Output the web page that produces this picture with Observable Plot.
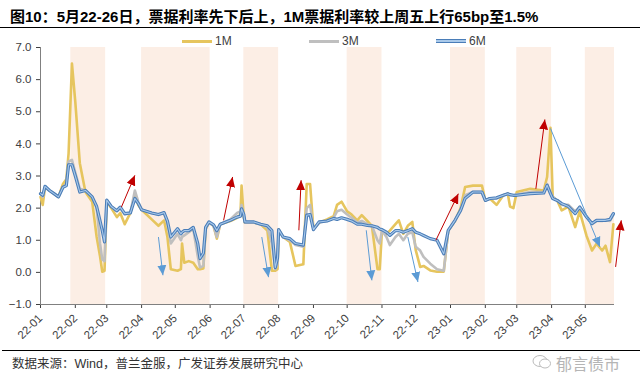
<!DOCTYPE html>
<html><head><meta charset="utf-8">
<script src="https://cdn.jsdelivr.net/npm/d3@7"></script>
<script src="https://cdn.jsdelivr.net/npm/@observablehq/plot@0.6"></script>
<style>
body{margin:0;background:#fff;}
#wrap{position:relative;width:640px;height:385px;overflow:hidden;font-family:"Liberation Sans","Noto Sans CJK SC",sans-serif;}
#title{position:absolute;left:10px;top:5px;font-size:15px;font-weight:bold;color:#000;white-space:nowrap;font-family:"Liberation Sans","Noto Sans CJK SC",sans-serif;}
#tline{position:absolute;left:0;top:27px;width:640px;height:0;border-top:1.5px solid #000;}
#chart{position:absolute;left:0;top:30px;}
.leg{position:absolute;top:34px;height:14px;font-size:12px;color:#404040;display:flex;align-items:center;white-space:nowrap;}
.sw{display:inline-block;width:30px;margin-right:3px;}
#fline{position:absolute;left:2px;top:350px;width:638px;height:0;border-top:1.5px solid #000;}
#src{position:absolute;left:12px;top:353px;font-size:12.5px;color:#333;white-space:nowrap;}
#wm{position:absolute;left:556px;top:351px;font-size:16px;color:#b5b5b5;white-space:nowrap;font-family:"Noto Sans CJK SC",sans-serif;}
#icon{position:absolute;left:532px;top:355px;width:20px;height:14px;}
</style></head>
<body><div id="wrap">
<div id="title"></div><div id="tline"></div>
<div id="chart"></div>
<div id="fline"></div><div id="src"></div>
<svg id="icon" viewBox="0 0 20 14"><ellipse cx="8" cy="6" rx="7" ry="5.5" fill="none" stroke="#bbb" stroke-width="1"/><ellipse cx="13" cy="8.5" rx="5.5" ry="4.5" fill="#fff" stroke="#bbb" stroke-width="1"/></svg>
<div id="wm">郁言债市</div>
</div>
<script>
const titleText = "图10：5月22-26日，票据利率先下后上，1M票据利率较上周五上行65bp至1.5%";
const sourceText = "数据来源：Wind，普兰金服，广发证券发展研究中心";
const seriesNames = ["1M","3M","6M"];
const xTickLabels = ["22-01","22-02","22-03","22-04","22-05","22-06","22-07","22-08","22-09","22-10","22-11","22-12","23-01","23-02","23-03","23-04","23-05"];
const yTicks = [-1,0,1,2,3,4,5,6,7];
const dates = [
"2022-01-01","2022-01-03","2022-01-05","2022-01-09","2022-01-13","2022-01-17","2022-01-21","2022-01-24","2022-01-26","2022-01-29",
"2022-02-01","2022-02-05","2022-02-10","2022-02-16","2022-02-20","2022-02-23","2022-02-25","2022-02-27","2022-03-01","2022-03-05",
"2022-03-10","2022-03-13","2022-03-17","2022-03-22","2022-03-26","2022-03-29","2022-04-01","2022-04-10","2022-04-16","2022-04-21",
"2022-04-24","2022-04-27","2022-05-03","2022-05-06","2022-05-07","2022-05-09","2022-05-13","2022-05-17","2022-05-21","2022-05-23",
"2022-05-26","2022-05-28","2022-05-31","2022-06-04","2022-06-07","2022-06-10","2022-06-19","2022-06-25","2022-06-28","2022-06-29",
"2022-07-01","2022-07-02","2022-07-10","2022-07-16","2022-07-22","2022-07-26","2022-07-29","2022-07-31","2022-08-01","2022-08-05",
"2022-08-11","2022-08-16","2022-08-23","2022-08-26","2022-08-29","2022-09-01","2022-09-06","2022-09-13","2022-09-19","2022-09-22",
"2022-09-26","2022-10-01","2022-10-05","2022-10-10","2022-10-14","2022-10-19","2022-10-23","2022-10-28","2022-10-30","2022-11-01",
"2022-11-05","2022-11-08","2022-11-13","2022-11-16","2022-11-20","2022-11-24","2022-11-28","2022-12-01","2022-12-05","2022-12-08",
"2022-12-14","2022-12-20","2022-12-26","2022-12-30","2023-01-05","2023-01-10","2023-01-14","2023-01-21","2023-01-29","2023-02-01",
"2023-02-05","2023-02-11","2023-02-17","2023-02-21","2023-02-23","2023-02-26","2023-03-01","2023-03-13","2023-03-25","2023-03-28",
"2023-03-31","2023-04-02","2023-04-06","2023-04-10","2023-04-16","2023-04-22","2023-04-26","2023-05-02","2023-05-07","2023-05-11",
"2023-05-16","2023-05-19","2023-05-23","2023-05-26"];
const m1 = [
2.35,2.1,2.65,2.55,2.45,2.35,2.75,2.9,3.7,6.5,
5.3,3.4,2.5,2.2,1.1,0.5,0.02,0.05,2.2,2.0,
1.72,1.85,1.5,1.85,2.4,2.1,1.95,1.65,1.45,1.62,
1.1,0.1,0.05,0.1,0.9,0.3,0.35,0.3,0.1,0.1,
0.12,1.35,1.55,1.45,1.05,1.5,1.6,1.7,1.8,2.7,
1.7,1.55,1.55,1.5,1.3,0.05,0.05,0.1,1.33,1.1,
0.95,0.2,0.25,2.75,2.75,1.35,1.55,1.65,1.75,2.1,
2.2,1.9,1.8,1.62,1.78,1.6,1.45,0.1,0.1,1.3,
1.2,1.3,1.5,1.62,1.2,1.45,1.57,0.7,0.17,0.2,
0.06,0.02,0.02,1.3,1.6,2.0,2.66,2.7,2.7,2.24,
2.3,2.1,2.4,2.45,2.05,2.0,2.5,2.6,2.55,2.97,
4.5,2.35,2.24,1.93,2.05,1.41,1.9,1.15,0.68,0.89,
0.68,0.83,0.32,1.5];
const m3 = [
2.45,2.35,2.65,2.55,2.45,2.35,2.65,2.75,3.45,3.5,
3.1,2.6,2.55,2.35,2.0,0.9,0.4,0.35,2.25,2.05,
1.9,2.0,1.8,1.85,2.55,2.2,1.95,1.85,1.8,1.85,
1.5,0.9,1.2,1.0,1.1,1.15,1.25,1.35,0.5,0.15,
0.2,1.35,1.55,1.45,1.1,1.5,1.65,1.85,1.9,2.1,
1.75,1.55,1.55,1.5,1.4,0.9,0.1,0.25,1.33,1.1,
1.0,0.85,0.8,2.0,2.1,1.35,1.55,1.6,1.7,1.9,
1.95,1.8,1.7,1.55,1.6,1.5,1.45,1.0,0.9,1.3,
1.1,0.85,1.1,1.2,1.0,1.2,1.25,0.8,0.68,0.48,
0.27,0.1,0.05,1.3,1.6,1.95,2.4,2.5,2.5,2.24,
2.3,2.3,2.4,2.45,2.4,2.4,2.42,2.5,2.5,2.75,
2.5,2.35,2.24,2.1,2.1,1.9,2.05,1.75,1.5,1.6,
1.6,1.62,1.6,1.8];
const m6 = [
2.45,2.4,2.68,2.55,2.45,2.35,2.65,2.7,3.35,3.35,
3.0,2.5,2.55,2.35,2.05,1.6,1.3,0.95,2.25,2.05,
1.92,2.03,1.83,1.85,2.3,2.15,1.95,1.85,1.8,1.86,
1.6,1.1,1.36,1.2,1.25,1.3,1.3,1.4,0.9,0.43,
0.6,1.4,1.57,1.48,1.3,1.5,1.62,1.72,1.75,1.98,
1.8,1.57,1.57,1.5,1.45,1.3,0.15,0.45,1.33,1.1,
1.05,0.9,0.85,1.78,1.8,1.33,1.57,1.6,1.68,1.65,
1.7,1.65,1.6,1.5,1.5,1.46,1.45,1.4,1.35,1.33,
1.25,1.15,1.3,1.3,1.25,1.3,1.36,1.25,1.2,1.15,
1.05,1.0,0.58,1.31,1.62,1.93,2.3,2.5,2.5,2.24,
2.3,2.32,2.4,2.45,2.42,2.4,2.4,2.45,2.47,2.71,
2.45,2.3,2.24,2.14,2.05,1.83,2.03,1.73,1.52,1.62,
1.62,1.62,1.65,1.83];
const bandStarts = ["2022-01-28","2022-04-01","2022-07-01","2022-10-01","2023-01-01","2023-03-01","2023-05-01"];
const bandEnds   = ["2022-02-28","2022-06-01","2022-08-01","2022-11-01","2023-02-01","2023-04-01","2023-05-27"];
// arrows: [start date, start value, end date, end value]
const upArrows = [
["2022-03-14",2.03,"2022-03-26",3.02],
["2022-06-13",1.62,"2022-06-21",2.97],
["2022-08-19",1.31,"2022-08-21",2.87],
["2022-12-19",1.0,"2023-01-08",2.45],
["2023-03-18",2.6,"2023-03-26",4.76],
["2023-05-28",0.17,"2023-06-02",1.62]];
const downArrows = [
["2022-04-16",1.1,"2022-04-20",-0.09],
["2022-07-17",1.1,"2022-07-23",-0.15],
["2022-10-18",1.31,"2022-10-23",-0.25],
["2022-11-24",1.1,"2022-12-03",-0.3],
["2023-03-31",4.48,"2023-05-14",0.79]];

const colors = {"1M":"#E6C55E","3M":"#BFBFBF","6M":"#4A7DB8"};
const P = s => new Date(s);
const rows = dates.map((d,i)=>({date:P(d), m1:m1[i], m3:m3[i], m6:m6[i]}));
const bands = bandStarts.map((s,i)=>({start:P(s), end:P(bandEnds[i])}));
const arr = a => a.map(r=>({x1:P(r[0]), y1:r[1], x2:P(r[2]), y2:r[3]}));
const xStart = P("2022-01-01"), xEnd = P("2023-05-27");
const tickDates = xTickLabels.map(l => P("20"+l+"-01"));
const labelOf = new Map(tickDates.map((d,i)=>[+d, xTickLabels[i]]));

document.getElementById("title").textContent = titleText;
document.getElementById("src").textContent = sourceText;

const chart = Plot.plot({
  width:640, height:320, marginLeft:40, marginRight:26, marginTop:17, marginBottom:46,
  style:{fontFamily:'"Liberation Sans", Arial, sans-serif', fontSize:"11.5px", color:"#404040", background:"transparent", overflow:"visible"},
  x:{type:"utc", domain:[xStart, xEnd], ticks:tickDates, tickFormat:d=>labelOf.get(+d), tickRotate:-45, tickSize:4, label:null},
  y:{domain:[-1,7], ticks:yTicks, tickFormat:d3.format(".1f"), tickSize:4, label:null},
  marks:[
    Plot.rect(bands, {x1:"start", x2:"end", fill:"#FCEEE5"}),
    Plot.ruleY([-1], {stroke:"#808080"}),
    Plot.ruleX([xStart], {stroke:"#808080"}),
    Plot.line(rows, {x:"date", y:"m1", stroke:colors["1M"], strokeWidth:2.6}),
    Plot.line(rows, {x:"date", y:"m3", stroke:colors["3M"], strokeWidth:2.6}),
    Plot.line(rows, {x:"date", y:"m6", stroke:colors["6M"], strokeWidth:3.2}),
    Plot.line(rows, {x:"date", y:"m6", stroke:"#A9C9EA", strokeWidth:1.1}),
    Plot.link(arr(upArrows), {x1:"x1", y1:"y1", x2:"x2", y2:"y2", stroke:"#C00000", strokeWidth:1}),
    Plot.link(arr(downArrows), {x1:"x1", y1:"y1", x2:"x2", y2:"y2", stroke:"#5B9BD5", strokeWidth:1})
  ]
});
// filled arrow heads
const ns = "http://www.w3.org/2000/svg";
const defs = document.createElementNS(ns, "defs");
function mk(id, color){
  const m = document.createElementNS(ns, "marker");
  m.setAttribute("id", id); m.setAttribute("viewBox", "-10 -5 10 10");
  m.setAttribute("refX", "0"); m.setAttribute("refY", "0");
  m.setAttribute("markerWidth", "10"); m.setAttribute("markerHeight", "10");
  m.setAttribute("markerUnits", "userSpaceOnUse"); m.setAttribute("orient", "auto");
  const p = document.createElementNS(ns, "path");
  p.setAttribute("d", "M-10,-4.5L0,0L-10,4.5Z"); p.setAttribute("fill", color); p.setAttribute("stroke", "none");
  m.appendChild(p); return m;
}
defs.appendChild(mk("headRed", "#C00000"));
defs.appendChild(mk("headBlue", "#5B9BD5"));
chart.insertBefore(defs, chart.firstChild);
const linkGroups = chart.querySelectorAll('g[aria-label="link"]');
if (linkGroups[0]) linkGroups[0].querySelectorAll("path").forEach(p=>p.setAttribute("marker-end","url(#headRed)"));
if (linkGroups[1]) linkGroups[1].querySelectorAll("path").forEach(p=>p.setAttribute("marker-end","url(#headBlue)"));
document.getElementById("chart").appendChild(chart);

// legend
const legX = [182, 309, 436];
seriesNames.forEach((n,i)=>{
  const d = document.createElement("div"); d.className = "leg"; d.style.left = legX[i]+"px";
  const sw = document.createElement("span"); sw.className = "sw";
  if (n === "6M") { sw.style.height = "1.2px"; sw.style.background = "#A9C9EA"; sw.style.border = "1px solid "+colors[n]; sw.style.borderLeft="none"; sw.style.borderRight="none"; }
  else { sw.style.height = "3px"; sw.style.background = colors[n]; }
  d.appendChild(sw); d.appendChild(document.createTextNode(n));
  document.getElementById("wrap").appendChild(d);
});
</script>
</body></html>
